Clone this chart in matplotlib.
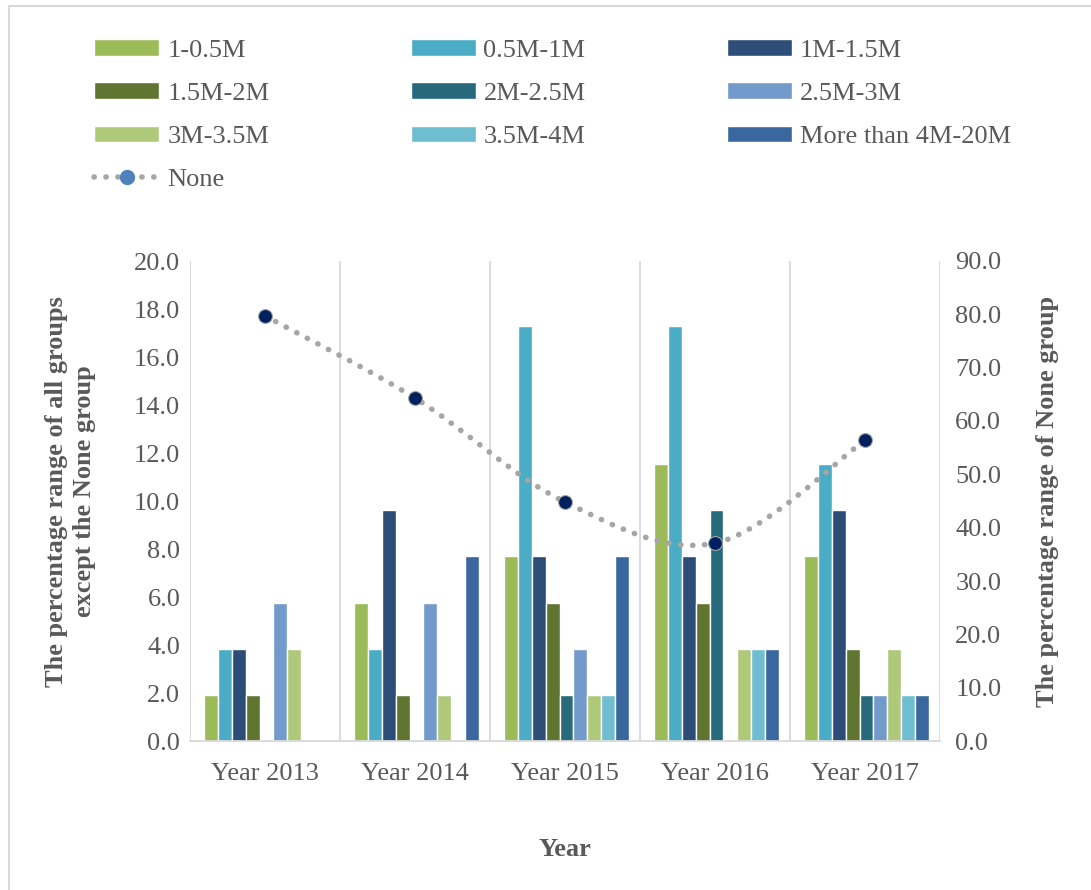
import matplotlib.pyplot as plt
from matplotlib.lines import Line2D
from matplotlib.path import Path
import matplotlib.patches as patches
import numpy as np

plt.rcParams['font.family'] = ['Liberation Serif', 'DejaVu Serif']

# ---- data ----
years = ['Year 2013', 'Year 2014', 'Year 2015', 'Year 2016', 'Year 2017']
groups = ['1-0.5M', '0.5M-1M', '1M-1.5M', '1.5M-2M', '2M-2.5M',
          '2.5M-3M', '3M-3.5M', '3.5M-4M', 'More than 4M-20M']
colors = ['#9BBB59', '#4BACC6', '#2C4D75', '#5F7530', '#276A7C',
          '#729ACA', '#AFC97A', '#6FBDD1', '#3A679D']

# percentage per group (rows) and year (columns)
vals_05 = [1.92, 5.77, 7.69, 11.54, 7.69]
vals_1 = [3.85, 3.85, 17.31, 17.31, 11.54]
vals_15 = [3.85, 9.62, 7.69, 7.69, 9.62]
vals_2 = [1.92, 1.92, 5.77, 5.77, 3.85]
vals_25 = [0, 0, 1.92, 9.62, 1.92]
vals_3 = [5.77, 5.77, 3.85, 0, 1.92]
vals_35 = [3.85, 1.92, 1.92, 3.85, 3.85]
vals_4 = [0, 0, 1.92, 3.85, 1.92]
vals_20 = [0, 7.69, 7.69, 3.85, 1.92]
group_vals = [vals_05, vals_1, vals_15, vals_2, vals_25,
              vals_3, vals_35, vals_4, vals_20]

none_vals = [79.7, 64.3, 44.8, 37.1, 56.4]

text_color = '#595959'
grid_color = '#D9D9D9'
fs = 19

fig = plt.figure(figsize=(10.91, 8.9), dpi=100)
ax = fig.add_axes([190/1091, 149/890, 750/1091, 480/890])
ax2 = ax.twinx()

x = np.arange(len(years))
slot = 0.0926
bar_handles = []
for i, (name, vals, c) in enumerate(zip(groups, group_vals, colors)):
    b = ax.bar(x + (i - 4) * slot + 0.01, vals, width=slot, color=c,
               edgecolor='white', linewidth=1.0, label=name, zorder=2)
    bar_handles.append(b)

ax.set_xlim(-0.5, 4.5)
ax.set_ylim(0, 20)
ax.set_yticks(np.arange(0, 20.1, 2))
ax.set_yticklabels([f'{v:.1f}' for v in np.arange(0, 20.1, 2)])
ax.set_xticks(x)
ax.set_xticklabels(years)
ax.set_xticks(np.arange(-0.5, 4.6, 1), minor=True)
ax.grid(which='minor', axis='x', color=grid_color, lw=1.3, zorder=0)
ax.tick_params(which='both', length=0)
ax.tick_params(axis='y', labelsize=fs, labelcolor=text_color, pad=7)
ax.tick_params(axis='x', labelsize=fs, labelcolor=text_color, pad=16)
for s in ['top', 'left', 'right']:
    ax.spines[s].set_visible(False)
ax.spines['bottom'].set_color(grid_color)
ax.spines['bottom'].set_linewidth(1.3)

ax.set_xlabel('Year', fontsize=fs, fontweight='bold', color=text_color, labelpad=38)
ax.set_ylabel('The percentage range of all groups\nexcept the None group',
              fontsize=fs, fontweight='bold', color=text_color,
              linespacing=1.25)
ax.yaxis.set_label_coords(-0.126, 0.52)

# smoothed "None" line (Catmull-Rom style bezier through the points)
ax2.set_ylim(0, 90)
ax2.set_yticks(np.arange(0, 90.1, 10))
ax2.set_yticklabels([f'{v:.1f}' for v in np.arange(0, 90.1, 10)])
ax2.tick_params(length=0, labelsize=fs, labelcolor=text_color, pad=11)
for s in ax2.spines.values():
    s.set_visible(False)

px = x.astype(float)
py = np.array(none_vals, dtype=float)
verts = [(px[0], py[0])]
codes = [Path.MOVETO]
n = len(px)
for k in range(n - 1):
    p0 = (px[max(k - 1, 0)], py[max(k - 1, 0)])
    p1 = (px[k], py[k])
    p2 = (px[k + 1], py[k + 1])
    p3 = (px[min(k + 2, n - 1)], py[min(k + 2, n - 1)])
    c1 = (p1[0] + (p2[0] - p0[0]) / 6, p1[1] + (p2[1] - p0[1]) / 6)
    c2 = (p2[0] - (p3[0] - p1[0]) / 6, p2[1] - (p3[1] - p1[1]) / 6)
    verts += [c1, c2, p2]
    codes += [Path.CURVE4] * 3
curve = patches.PathPatch(Path(verts, codes), facecolor='none', edgecolor='#A6A6A6',
                          lw=4, linestyle=(0, (0.05, 2.1)), zorder=3)
curve.set_capstyle('round')
ax2.add_patch(curve)
ax2.plot(px, py, linestyle='none', marker='o', markersize=10,
         markerfacecolor='#002060', markeredgecolor='#A6A6A6', markeredgewidth=0.8, zorder=4)

ax2.set_ylabel('The percentage range of None group', fontsize=fs, fontweight='bold',
               color=text_color, labelpad=25)

# legend, row-wise order across 3 columns
none_handle = Line2D([0], [0], color='#A6A6A6', lw=4, linestyle=(0, (0.05, 2.1)),
                     dash_capstyle='round', marker='o', markersize=10,
                     markerfacecolor='#4F81BD', markeredgecolor='#4F81BD')
order = [0, 3, 6, None, 1, 4, 7, 2, 5, 8]
handles = [none_handle if k is None else bar_handles[k] for k in order]
labels = ['None' if k is None else groups[k] for k in order]
fig.legend(handles, labels, ncol=3, loc='upper left', bbox_to_anchor=(76/1091, 1 - 21/890),
           frameon=False, fontsize=fs, labelcolor=text_color, handlelength=2.46,
           handleheight=0.57, handletextpad=0.3, columnspacing=5.35, labelspacing=0.78,
           borderpad=0.2)

# outer chart border (top and left visible)
fig.add_artist(Line2D([9/1091, 1], [1 - 6/890, 1 - 6/890], transform=fig.transFigure,
                      color=grid_color, lw=1.5))
fig.add_artist(Line2D([9/1091, 9/1091], [0, 1 - 6/890], transform=fig.transFigure,
                      color=grid_color, lw=1.5))

fig.savefig('out.png', dpi=100)
